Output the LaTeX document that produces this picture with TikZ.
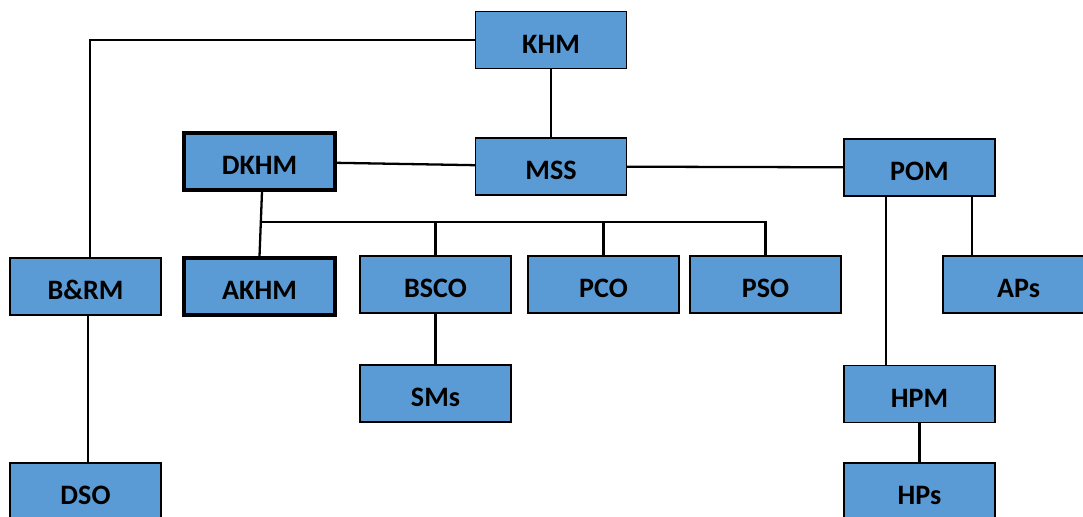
\documentclass[tikz,border=0pt]{standalone}
\usepackage{fontspec}
\setmainfont{Carlito}
\usepackage{tikz}
\usepackage{xcolor}
\definecolor{boxblue}{HTML}{5B9BD5}

\begin{document}
\begin{tikzpicture}[line cap=round,
  unit/.style={draw=black,line width=0.9pt,fill=boxblue,minimum width=3.02cm,minimum height=1.14cm,
    inner sep=0pt,text height=15pt,text depth=0pt,font=\fontsize{16}{19}\selectfont\bfseries},
  unit head/.style={unit,line width=1.8pt},
  link/.style={draw=black,line width=1.3pt}]
\useasboundingbox (0,0) rectangle (21.66,10.34);
\node[unit] (khm) at (11.02,9.54) {KHM};
\node[unit] (mss) at (11.02,7.01) {MSS};
\node[unit head] (dkhm) at (5.19,7.11) {DKHM};
\node[unit] (pom) at (18.39,6.99) {POM};
\node[unit] (brm) at (1.71,4.61) {B\&RM};
\node[unit head] (akhm) at (5.19,4.61) {AKHM};
\node[unit] (bsco) at (8.71,4.65) {BSCO};
\node[unit] (pco) at (12.07,4.65) {PCO};
\node[unit] (pso) at (15.31,4.65) {PSO};
\node[unit] (aps) at (20.37,4.65) {APs};
\node[unit] (sms) at (8.71,2.47) {SMs};
\node[unit] (hpm) at (18.39,2.46) {HPM};
\node[unit] (dso) at (1.71,0.51) {DSO};
\node[unit] (hps) at (18.39,0.51) {HPs};
\coordinate (bus) at (5.24,5.9);
\draw[link] (khm.west) -| ([xshift=0.09cm]brm.north);
\draw[link] (khm) -- (mss);
\draw[link] (dkhm) -- (mss);
\draw[link] (mss) -- (pom);
\draw[link] ([xshift=0.05cm]dkhm.south) -- (akhm.north);
\draw[link] (bus) -| (bsco.north);
\draw[link] (bus) -| (pco.north);
\draw[link] (bus) -| (pso.north);
\draw[link] (bsco) -- (sms);
\draw[link] ([xshift=-0.67cm]pom.south) -- ([xshift=-0.67cm]hpm.north);
\draw[link] ([xshift=1.05cm]pom.south) -- ([xshift=1.05cm]pom.south |- aps.north);
\draw[link] (hpm) -- (hps);
\draw[link] ([xshift=0.05cm]brm.south) -- ([xshift=0.05cm]dso.north);
\end{tikzpicture}
\end{document}
